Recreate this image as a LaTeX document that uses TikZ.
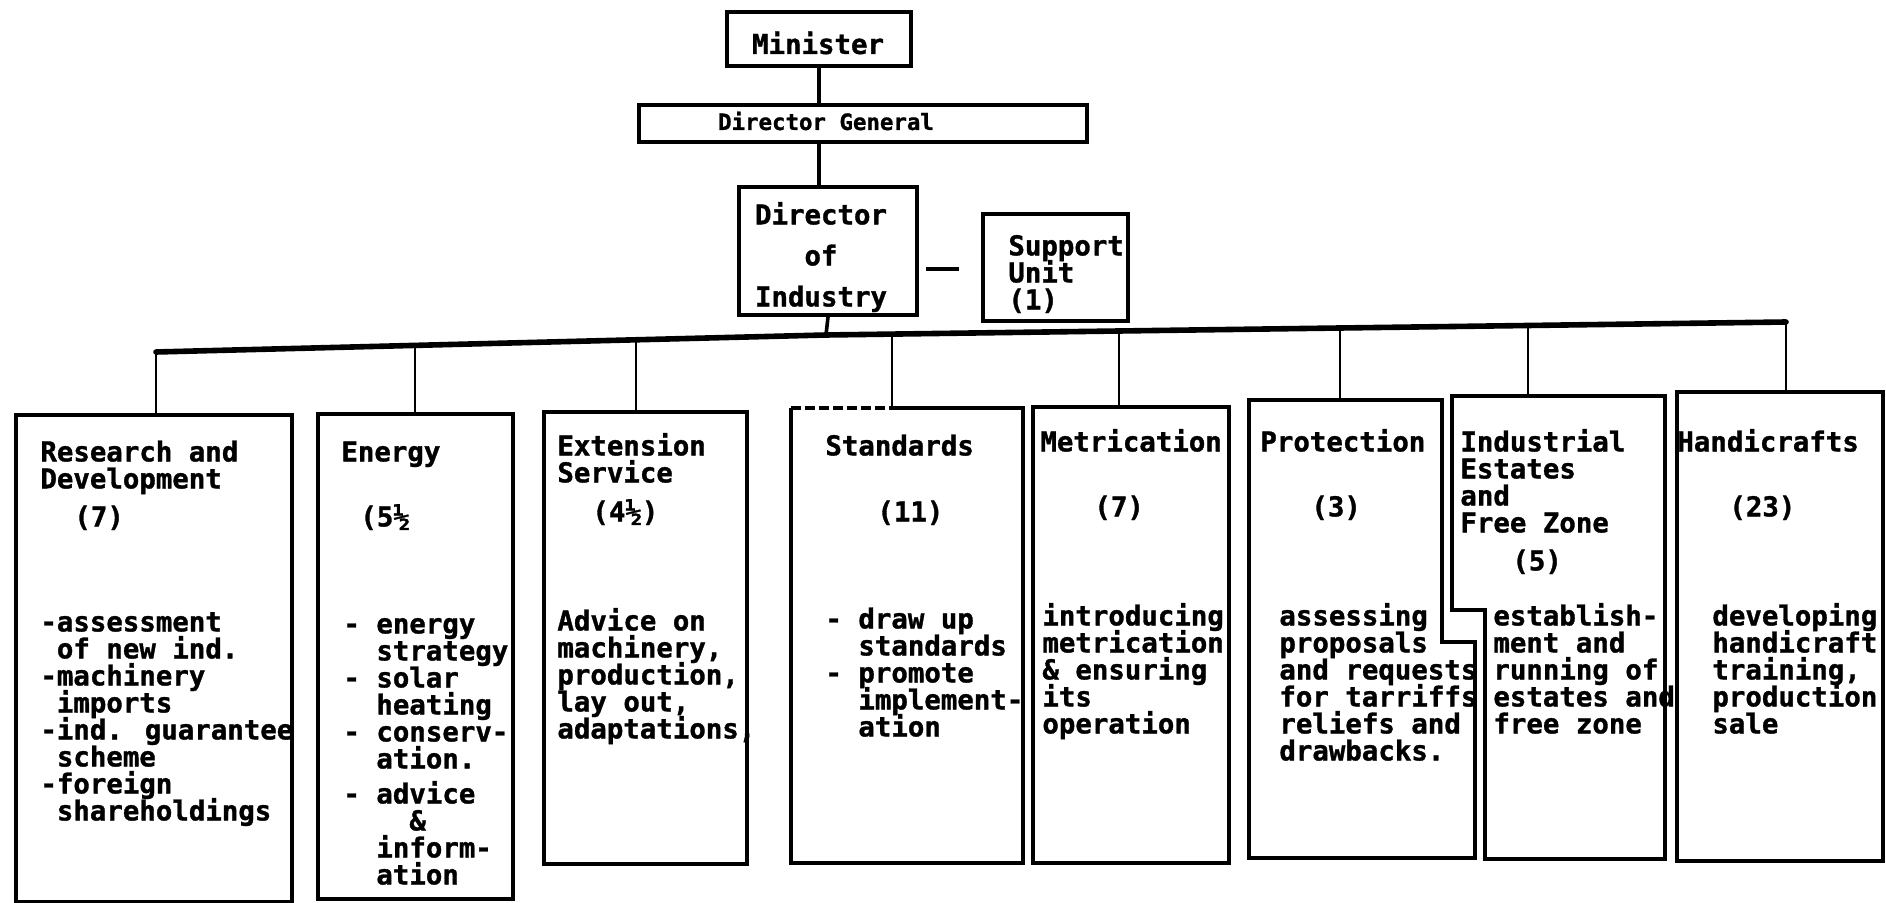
\documentclass[tikz,border=0pt]{standalone}
\usepackage{fontspec}
\newfontfamily\dmono{DejaVu Sans Mono}[BoldFeatures={FakeBold=1.2}]
\usetikzlibrary{calc}
\lineskiplimit=-100pt
\newcommand\fstr{\rule{0pt}{11.5pt}}
\newcommand\ind[1]{\hphantom{#1}}
\newcommand\bx[6][box]{\node[#1, minimum width={(#5-#3)*0.5pt}, minimum height={(#6-#4)*0.5pt}] (#2) at (#3,#4) {};}
\begin{document}
\begin{tikzpicture}[x=0.5pt,y=-0.5pt,
  box/.style={draw, line width=2pt, inner sep=0pt, anchor=north west},
  ghost/.style={inner sep=0pt, anchor=north west},
  outl/.style={line width=2pt, line join=miter},
  bus/.style={line width=2.8pt, line cap=round},
  drop/.style={line width=1.4pt},
  conn/.style={line width=1.8pt},
  txt/.style={inner sep=0pt, anchor=north west, align=left, font={\dmono\bfseries\fontsize{13.7}{13.5}\selectfont\lineskiplimit=-100pt}},
  ctxt/.style={inner sep=0pt, font={\dmono\bfseries\fontsize{13.7}{13.5}\selectfont}},
  dgtxt/.style={inner sep=0pt, font={\dmono\bfseries\fontsize{11.2}{13}\selectfont}},
  doitxt/.style={inner sep=0pt, anchor=north, align=center, font={\dmono\bfseries\fontsize{13.7}{20.5}\selectfont\lineskiplimit=-100pt}}
]
\useasboundingbox (0,0) rectangle (1886,903);

% ---------- top of the chart ----------
\bx{min}{725}{10}{909}{64}
\bx{dg}{637}{103}{1085}{140}
\bx{doi}{737}{185}{915}{313}
\bx{su}{981}{212}{1126}{319}

\node[ctxt] (mint) at (818,43) {Minister};
\node[dgtxt] (dgt) at (826,121) {Director General};
\node[doitxt] (doit) at (821,201) {\fstr Director\\of\\Industry};
\node[txt] (sut) at (1008,232) {\fstr Support\\Unit\\(1)};

\draw[conn] (min.south) -- (min.south |- dg.north);
\draw[conn] (min.south |- dg.south) -- (min.south |- doi.north);
\coordinate (s1) at ($(doi.east)+(7,18)$);
\coordinate (s2) at ($(doi.east)+(40,18)$);
\draw[conn] (s1) -- (s2);

% ---------- bus ----------
\coordinate (j) at (826,335);
\coordinate (b1) at (156,352);
\coordinate (b2) at (415,345.4);
\coordinate (b3) at (636,339.8);
\coordinate (b4) at (892,334.1);
\coordinate (b5) at (1119,331);
\coordinate (b6) at (1340,328);
\coordinate (b7) at (1528,325.5);
\coordinate (b8) at (1786,322);
\draw[conn] (doi.south) -- (j);
\draw[bus] (b1) -- (b2) -- (b3) -- (j) -- (b4) -- (b5) -- (b6) -- (b7) -- (b8);

% ---------- unit boxes ----------
\bx{rd}{14}{413}{290}{900}
\bx{en}{316}{412}{511}{897}
\bx{ex}{542}{410}{745}{862}
\bx[ghost]{std}{791}{408}{1022}{862}
\bx{me}{1031}{405}{1227}{861}
\bx[ghost]{pr}{1249}{400}{1441}{857}
\bx[ghost]{ind}{1452}{396}{1664}{858}
\bx{ha}{1675}{390}{1881}{859}

\draw[outl, dash pattern=on 5pt off 2pt] (std.north west) -- (b4 |- std.north);
\draw[outl] (b4 |- std.north) -- (std.north east) -- (std.south east) -- (std.south west) -- (std.north west);
\draw[outl] (pr.north west) -- (pr.north east) -- ++(0,242) -- ++(33,0) |- (pr.south west) -- cycle;
\draw[outl] (ind.north east) -- (ind.north west) -- ++(0,214) -- ++(33,0) |- (ind.south east) -- cycle;

\draw[drop] (b1) -- (b1 |- rd.north);
\draw[drop] (b2) -- (b2 |- en.north);
\draw[drop] (b3) -- (b3 |- ex.north);
\draw[drop] (b4) -- (b4 |- std.north);
\draw[drop] (b5) -- (b5 |- me.north);
\draw[drop] (b6) -- (b6 |- pr.north);
\draw[drop] (b7) -- (b7 |- ind.north);
\draw[drop] (b8) -- (b8 |- ha.north);

% ---------- texts ----------
\node[txt] (rdh) at (40,438) {\fstr Research and\\Development};
\node[txt] (rdn) at (74,503) {\fstr(7)};
\node[txt] (rdb) at (40,608) {\fstr -assessment\\\ind{x}of new ind.\\-machinery\\\ind{x}imports\\-ind. guarantee\\\ind{x}scheme\\-foreign\\\ind{x}shareholdings};

\node[txt] (enh) at (341,438) {\fstr Energy};
\node[txt] (enn) at (360,503) {\fstr(5½};
\node[txt] (enb) at (343,610) {\fstr - energy\\\ind{xx}strategy\\- solar\\\ind{xx}heating\\- conserv-\\\ind{xx}ation.};
\node[txt] (enc) at (343,780) {\fstr - advice\\\ind{xxxx}\&\\\ind{xx}inform-\\\ind{xx}ation};

\node[txt] (exh) at (557,432) {\fstr Extension\\Service};
\node[txt] (exn) at (592,498) {\fstr(4½)};
\node[txt] (exb) at (557,607) {\fstr Advice on\\machinery,\\production,\\lay out,\\adaptations,};

\node[txt] (sth) at (825,432) {\fstr Standards};
\node[txt] (stn) at (877,498) {\fstr(11)};
\node[txt] (stb) at (825,605) {\fstr - draw up\\\ind{xx}standards\\- promote\\\ind{xx}implement-\\\ind{xx}ation};

\node[txt] (meh) at (1040,428) {\fstr Metrication};
\node[txt] (men) at (1094,493) {\fstr(7)};
\node[txt] (meb) at (1042,602) {\fstr introducing\\metrication\\\& ensuring\\its\\operation};

\node[txt] (prh) at (1260,428) {\fstr Protection};
\node[txt] (prn) at (1311,493) {\fstr(3)};
\node[txt] (prb) at (1279,602) {\fstr assessing\\proposals\\and requests\\for tarriffs\\reliefs and\\drawbacks.};

\node[txt] (inh) at (1460,428) {\fstr Industrial\\Estates\\and\\Free Zone};
\node[txt] (inn) at (1512,547) {\fstr(5)};
\node[txt] (inb) at (1493,602) {\fstr establish-\\ment and\\running of\\estates and\\free zone};

\node[txt] (hah) at (1677,428) {\fstr Handicrafts};
\node[txt] (han) at (1729,493) {\fstr(23)};
\node[txt] (hab) at (1712,602) {\fstr developing\\handicraft\\training,\\production\\sale};
\end{tikzpicture}
\end{document}
